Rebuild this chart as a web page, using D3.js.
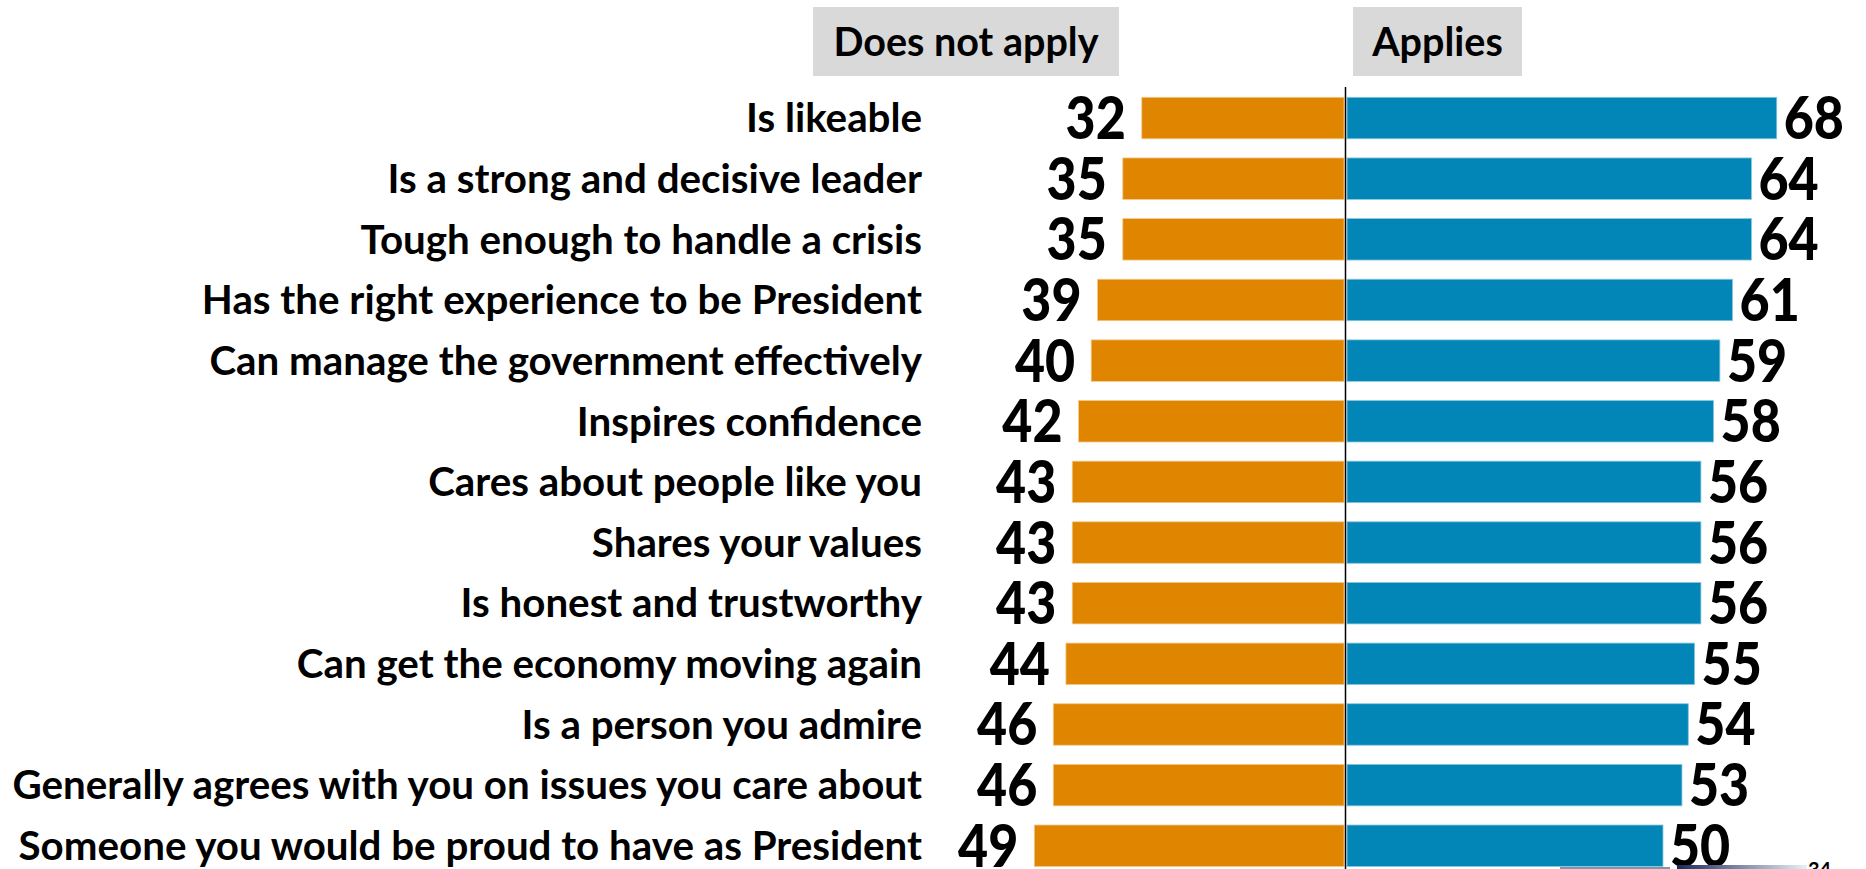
<!DOCTYPE html>
<html>
<head>
<meta charset="utf-8">
<script src="https://cdn.jsdelivr.net/npm/d3@7"></script>
<style>
  html, body { margin: 0; padding: 0; background: #fff; }
  svg { display: block; }
  text { font-family: Lato, "Noto Sans", sans-serif; font-weight: 700; fill: #000; }
</style>
</head>
<body>
<svg id="chart" width="1866" height="869"></svg>
<script>
const categories = [
  "Is likeable",
  "Is a strong and decisive leader",
  "Tough enough to handle a crisis",
  "Has the right experience to be President",
  "Can manage the government effectively",
  "Inspires confidence",
  "Cares about people like you",
  "Shares your values",
  "Is honest and trustworthy",
  "Can get the economy moving again",
  "Is a person you admire",
  "Generally agrees with you on issues you care about",
  "Someone you would be proud to have as President"
];
const doesNotApply = [32, 35, 35, 39, 40, 42, 43, 43, 43, 44, 46, 46, 49];
const applies      = [68, 64, 64, 61, 59, 58, 56, 56, 56, 55, 54, 53, 50];
const headers = ["Does not apply", "Applies"];
const pageNumber = "34";

const svg = d3.select("#chart");
const W = 1866, H = 869;
const centerX = 1345.5;
const leftEdge = 1344, rightEdge = 1347;

const xLen = d3.scaleLinear().domain([0, 100]).range([0, 632]);
const y = d3.scaleBand().domain(categories).range([97.3, 866.5]).paddingInner(0.316).paddingOuter(0);

const orange = "#DF8500", blue = "#0286B7";

// header boxes
const hdr = [
  {t: headers[0], x0: 813, x1: 1119},
  {t: headers[1], x0: 1353, x1: 1522}
];
const hg = svg.append("g");
hg.selectAll("rect").data(hdr).join("rect")
  .attr("x", d => d.x0).attr("y", 7).attr("width", d => d.x1 - d.x0).attr("height", 69)
  .attr("fill", "#D9D9D9");
hg.selectAll("text").data(hdr).join("text")
  .attr("x", d => (d.x0 + d.x1) / 2).attr("y", 56)
  .attr("text-anchor", "middle").attr("font-size", 39.5)
  .text(d => d.t);

// bars
const rows = categories.map((c, i) => ({c, dn: doesNotApply[i], ap: applies[i]}));

svg.append("g").selectAll("rect").data(rows).join("rect")
  .attr("x", d => leftEdge - xLen(d.dn)).attr("y", d => y(d.c))
  .attr("width", d => xLen(d.dn)).attr("height", y.bandwidth())
  .attr("fill", orange).attr("stroke", "#f3c98c").attr("stroke-width", 0.8);

svg.append("g").selectAll("rect").data(rows).join("rect")
  .attr("x", rightEdge).attr("y", d => y(d.c))
  .attr("width", d => xLen(d.ap)).attr("height", y.bandwidth())
  .attr("fill", blue).attr("stroke", "#8cc7dd").attr("stroke-width", 0.8);

// center line
svg.append("line").attr("x1", centerX).attr("x2", centerX).attr("y1", 87).attr("y2", H)
  .attr("stroke", "#000").attr("stroke-width", 1.5);

// category labels
svg.append("g").selectAll("text").data(rows).join("text")
  .attr("x", 922).attr("y", d => y(d.c) + y.bandwidth() / 2 + 14.3)
  .attr("text-anchor", "end").attr("font-size", 40.3)
  .text(d => d.c);

// value labels (condensed, heavy digits)
const sx = 0.88;
svg.append("g").selectAll("text").data(rows).join("text")
  .attr("transform", d => `translate(${leftEdge - xLen(d.dn) - 16},${y(d.c) + y.bandwidth() / 2 + 21}) scale(${sx},1)`)
  .attr("text-anchor", "end").attr("font-size", 59).style("font-weight", 900)
  .text(d => d.dn);

svg.append("g").selectAll("text").data(rows).join("text")
  .attr("transform", d => `translate(${rightEdge + xLen(d.ap) + 7},${y(d.c) + y.bandwidth() / 2 + 21}) scale(${sx},1)`)
  .attr("text-anchor", "start").attr("font-size", 59).style("font-weight", 900)
  .text(d => d.ap);

// footer fragments (logo edge + page number)
const defs = svg.append("defs");
const grad = defs.append("linearGradient").attr("id", "lg").attr("x1", 0).attr("x2", 1);
grad.append("stop").attr("offset", 0).attr("stop-color", "#1b2a5c");
grad.append("stop").attr("offset", 1).attr("stop-color", "#e8f0f6");
svg.append("rect").attr("x", 1560).attr("y", 867).attr("width", 110).attr("height", 2).attr("fill", "#5a6482").attr("opacity", 0.7);
svg.append("rect").attr("x", 1677).attr("y", 865).attr("width", 130).attr("height", 4).attr("fill", "url(#lg)");
svg.append("text").attr("x", 1808).attr("y", 877).attr("font-size", 20).attr("font-weight", 400)
  .text(pageNumber);
</script>
</body>
</html>
